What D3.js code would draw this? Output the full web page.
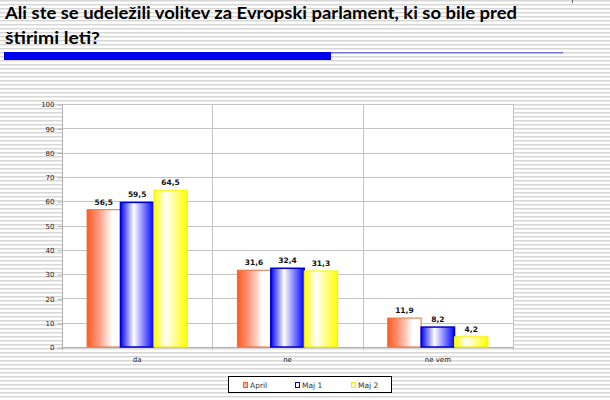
<!DOCTYPE html>
<html><head><meta charset="utf-8">
<script src="https://cdn.jsdelivr.net/npm/d3@7"></script>
<style>html,body{margin:0;padding:0;background:#fff;}svg{display:block;}</style>
</head><body>
<svg id="c" width="610" height="400"></svg>
<script>
const titleLines = ["Ali ste se udeležili volitev za Evropski parlament, ki so bile pred", "štirimi leti?"];
const categories = ["da", "ne", "ne vem"];
const seriesNames = ["April", "Maj 1", "Maj 2"];
const april = [56.5, 31.6, 11.9];
const maj1 = [59.5, 32.4, 8.2];
const maj2 = [64.5, 31.3, 4.2];
const yTicks = [0, 10, 20, 30, 40, 50, 60, 70, 80, 90, 100];

const seriesValues = [april, maj1, maj2];
const svg = d3.select("#c");
const defs = svg.append("defs");

// striped background
const pat = defs.append("pattern").attr("id", "stripes").attr("patternUnits", "userSpaceOnUse")
  .attr("width", 8).attr("height", 4);
pat.append("rect").attr("width", 8).attr("height", 4).attr("fill", "#ffffff");
pat.append("rect").attr("y", 0).attr("width", 8).attr("height", 1).attr("fill", "#d6d6d6");
pat.append("rect").attr("y", 1).attr("width", 8).attr("height", 1).attr("fill", "#ececec");
svg.append("rect").attr("width", 610).attr("height", 400).attr("fill", "url(#stripes)");

// gradients
function grad(id, stops) {
  const g = defs.append("linearGradient").attr("id", id).attr("x1", "0%").attr("x2", "100%").attr("y1", "0%").attr("y2", "0%");
  stops.forEach(s => g.append("stop").attr("offset", s[0]).attr("stop-color", s[1]));
}
grad("g0", [["0%", "#ff5a22"], ["35%", "#ff9a80"], ["75%", "#ffffff"], ["100%", "#ffffff"]]);
grad("g1", [["0%", "#0000ff"], ["40%", "#ffffff"], ["100%", "#0000ff"]]);
grad("g2", [["0%", "#ffff00"], ["35%", "#ffffff"], ["100%", "#ffff00"]]);
const fills = ["url(#g0)", "url(#g1)", "url(#g2)"];
const strokes = ["#e8703a", "#0000cc", "#f4f400"];
const legendFills = ["#ffb090", "#ffffff", "#ffffb0"];
const legendStrokes = ["#f06030", "#0000dd", "#f0f000"];

// title
const tfont = "Lato, 'Open Sans', sans-serif";
svg.append("text").attr("x", 5).attr("y", 19).attr("font-family", tfont).attr("font-weight", "bold")
  .attr("font-size", 17).attr("fill", "#000").attr("textLength", 512).attr("lengthAdjust", "spacingAndGlyphs")
  .text(titleLines[0]);
svg.append("text").attr("x", 5).attr("y", 44).attr("font-family", tfont).attr("font-weight", "bold")
  .attr("font-size", 17).attr("fill", "#000").attr("textLength", 95).attr("lengthAdjust", "spacingAndGlyphs")
  .text(titleLines[1]);
// underline bars
svg.append("rect").attr("x", 4).attr("y", 52).attr("width", 559).attr("height", 1.5).attr("fill", "#7a7acc");
svg.append("rect").attr("x", 4).attr("y", 52).attr("width", 327).attr("height", 8).attr("fill", "#0000ee");
svg.append("line").attr("x1", 572.5).attr("x2", 572.5).attr("y1", 0).attr("y2", 3).attr("stroke", "#666");

// plot area
const L = 62, R = 513, T = 104, B = 347;
const x = d3.scaleBand().domain(categories).range([L, R]).paddingInner(0).paddingOuter(0);
const inner = d3.scaleBand().domain(seriesNames).range([0, x.bandwidth()]).paddingInner(0).paddingOuter(0.75);
const y = d3.scaleLinear().domain([0, 100]).range([B, T]);

svg.append("rect").attr("x", L).attr("y", T).attr("width", R - L).attr("height", B - T).attr("fill", "#fff");

const grid = svg.append("g").attr("stroke", "#c4c4c4").attr("stroke-width", 1);
yTicks.forEach(t => {
  grid.append("line").attr("x1", L).attr("x2", R).attr("y1", Math.round(y(t)) + 0.5).attr("y2", Math.round(y(t)) + 0.5);
});
// vertical category dividers
categories.forEach((c, i) => {
  const xx = Math.round(x(c) + x.bandwidth()) + 0.5;
  grid.append("line").attr("x1", xx).attr("x2", xx).attr("y1", T).attr("y2", B + 3);
});
grid.append("line").attr("x1", L + 0.5).attr("x2", L + 0.5).attr("y1", T).attr("y2", B + 3).attr("stroke", "#b0b0b0");

// y axis
const yAxis = d3.axisLeft(y).tickValues(yTicks).tickSize(5).tickPadding(3).tickFormat(d3.format("d"));
const ya = svg.append("g").attr("transform", `translate(${L + 0.5},0.5)`).call(yAxis);
ya.select(".domain").remove();
ya.selectAll(".tick line").attr("stroke", "#b0b0b0");
ya.selectAll(".tick text").attr("font-family", "'DejaVu Sans', sans-serif").attr("font-size", 7).attr("fill", "#222");

// x labels
const xAxis = d3.axisBottom(x).tickSize(0).tickPadding(10);
const xa = svg.append("g").attr("transform", `translate(0,${B})`).call(xAxis);
xa.select(".domain").attr("stroke", "#b0b0b0");
xa.selectAll(".tick text").attr("font-family", "'DejaVu Sans', sans-serif").attr("font-size", 7).attr("fill", "#222");

// bars
const fmt = v => String(v).replace(".", ",");
categories.forEach((c, ci) => {
  seriesNames.forEach((s, si) => {
    const v = seriesValues[si][ci];
    const bx = x(c) + inner(s);
    const bw = inner.bandwidth();
    svg.append("rect").attr("x", bx).attr("y", y(v)).attr("width", bw).attr("height", B - y(v))
      .attr("fill", fills[si]).attr("stroke", strokes[si]).attr("stroke-width", si === 1 ? 1.5 : 1);
    svg.append("text").attr("x", bx + bw / 2).attr("y", y(v) - 5).attr("text-anchor", "middle")
      .attr("font-family", "'DejaVu Sans', sans-serif").attr("font-weight", "bold").attr("font-size", 7.5)
      .attr("fill", "#111").text(fmt(v));
  });
});

// legend
const lg = svg.append("g");
lg.append("rect").attr("x", 228.5).attr("y", 376.5).attr("width", 163).attr("height", 16)
  .attr("fill", "#fff").attr("stroke", "#000").attr("stroke-width", 1);
const legX = [243, 295, 351];
seriesNames.forEach((s, i) => {
  lg.append("rect").attr("x", legX[i] + 0.5).attr("y", 382.5).attr("width", 4).attr("height", 5)
    .attr("fill", legendFills[i]).attr("stroke", legendStrokes[i]).attr("stroke-width", 1);
  lg.append("text").attr("x", legX[i] + 7).attr("y", 388).attr("font-family", "'DejaVu Sans', sans-serif")
    .attr("font-size", 7.5).attr("fill", "#333").text(s);
});
</script>
</body></html>
